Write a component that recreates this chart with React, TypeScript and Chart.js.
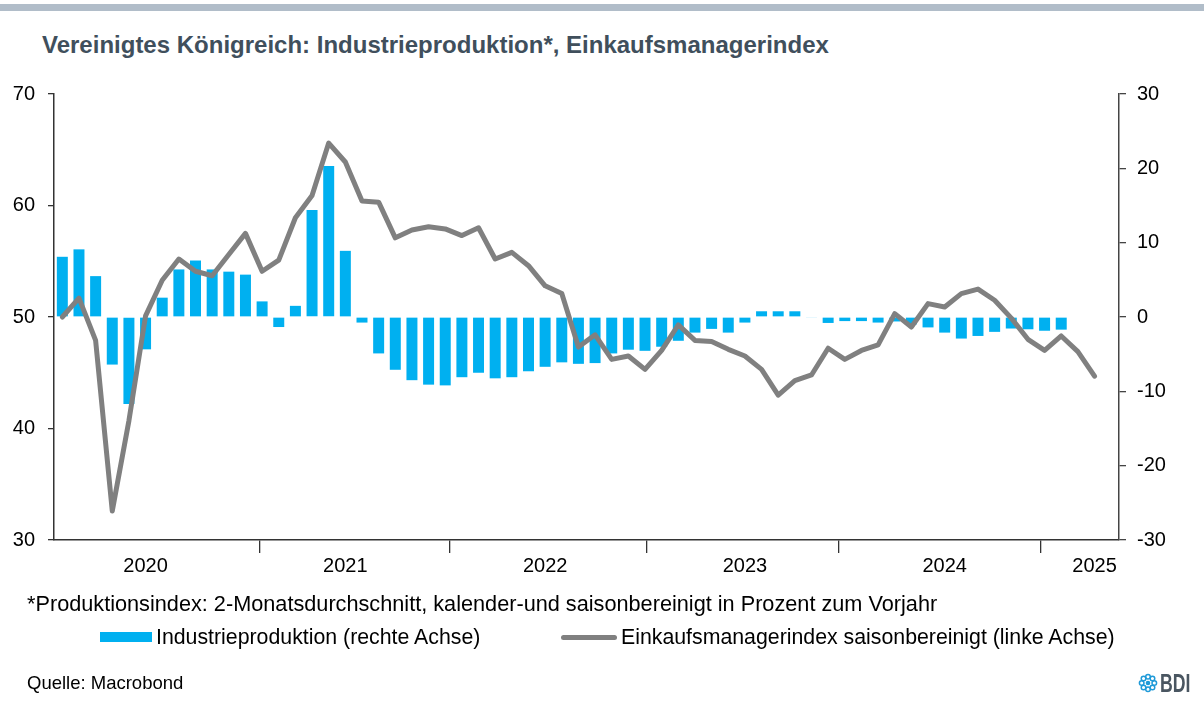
import React, { useEffect, useRef } from 'react';
import { Chart, registerables } from 'chart.js';

Chart.register(...registerables);

// Months Jan 2020 .. Mar 2025
const months = [
  'Jan 2020', 'Feb 2020', 'Mar 2020', 'Apr 2020', 'May 2020', 'Jun 2020', 'Jul 2020', 'Aug 2020', 'Sep 2020', 'Oct 2020', 'Nov 2020', 'Dec 2020',
  'Jan 2021', 'Feb 2021', 'Mar 2021', 'Apr 2021', 'May 2021', 'Jun 2021', 'Jul 2021', 'Aug 2021', 'Sep 2021', 'Oct 2021', 'Nov 2021', 'Dec 2021',
  'Jan 2022', 'Feb 2022', 'Mar 2022', 'Apr 2022', 'May 2022', 'Jun 2022', 'Jul 2022', 'Aug 2022', 'Sep 2022', 'Oct 2022', 'Nov 2022', 'Dec 2022',
  'Jan 2023', 'Feb 2023', 'Mar 2023', 'Apr 2023', 'May 2023', 'Jun 2023', 'Jul 2023', 'Aug 2023', 'Sep 2023', 'Oct 2023', 'Nov 2023', 'Dec 2023',
  'Jan 2024', 'Feb 2024', 'Mar 2024', 'Apr 2024', 'May 2024', 'Jun 2024', 'Jul 2024', 'Aug 2024', 'Sep 2024', 'Oct 2024', 'Nov 2024', 'Dec 2024',
  'Jan 2025', 'Feb 2025', 'Mar 2025',
];

// Einkaufsmanagerindex (left axis)
const pmi = [
  50.0, 51.7, 47.9, 32.6, 40.7, 50.1, 53.3, 55.2, 54.1, 53.7, 55.6, 57.5,
  54.1, 55.1, 58.9, 60.9, 65.6, 63.9, 60.4, 60.3, 57.1, 57.8, 58.1, 57.9,
  57.3, 58.0, 55.2, 55.8, 54.6, 52.8, 52.1, 47.3, 48.4, 46.2, 46.5, 45.3,
  47.0, 49.3, 47.9, 47.8, 47.1, 46.5, 45.3, 43.0, 44.3, 44.8, 47.2, 46.2,
  47.0, 47.5, 50.3, 49.1, 51.2, 50.9, 52.1, 52.5, 51.5, 49.9, 48.0, 47.0,
  48.3, 46.9, 44.7,
];

// Industrieproduktion, % yoy (right axis), Jan 2020 .. Jan 2025
const production = [
  8.1, 9.1, 5.5, -6.4, -11.7, -4.35, 2.6, 6.4, 7.6, 6.4, 6.1, 5.7,
  2.1, -1.35, 1.5, 14.4, 20.3, 8.9, -0.75, -4.9, -7.1, -8.5, -9.1, -9.2,
  -8.1, -7.5, -8.25, -8.1, -7.3, -6.7, -6.1, -6.3, -6.2, -4.9, -4.4, -4.55,
  -4.0, -3.2, -2.1, -1.6, -2.1, -0.75, 0.77, 0.77, 0.77, -0.1, -0.8, -0.55,
  -0.55, -0.75, -0.6, -1.0, -1.4, -2.1, -2.9, -2.55, -2.0, -1.55, -1.65, -1.85,
  -1.7,
];

const yearLabels = ['2020', '2021', '2022', '2023', '2024', '2025'];
const yearLabelMonths = ['Jun 2020', 'Jun 2021', 'Jun 2022', 'Jun 2023', 'Jun 2024', 'Mar 2025'];
// year separator tick marks, in month-index units
const yearSeparators = [11.84, 23.29, 35.07, 46.66, 58.74];

const leftTicks = [30, 40, 50, 60, 70];
const rightTicks = [-30, -20, -10, 0, 10, 20, 30];

const FONT = '"Liberation Sans", Arial, Helvetica, sans-serif';

function ChartCanvas() {
  const ref = useRef<HTMLCanvasElement | null>(null);
  useEffect(() => {
    const canvas = ref.current;
    if (!canvas) return;
    const tickDefs = [
      ...yearLabelMonths.map((m, i) => ({ value: months.indexOf(m), label: yearLabels[i], mark: false })),
      ...yearSeparators.map((v) => ({ value: v, label: '', mark: true })),
    ].sort((a, b) => a.value - b.value);

    const axisColor = '#333333';
    const chart = new Chart(canvas, {
      type: 'bar',
      data: {
        datasets: [
          {
            type: 'line',
            label: 'Einkaufsmanagerindex saisonbereinigt (linke Achse)',
            data: pmi.map((v, i) => ({ x: i, y: v })),
            yAxisID: 'yL',
            xAxisID: 'x',
            borderColor: '#808080',
            borderWidth: 5,
            pointRadius: 0,
            tension: 0,
            borderJoinStyle: 'round',
            borderCapStyle: 'round',
            order: 0,
          } as any,
          {
            type: 'bar',
            label: 'Industrieproduktion (rechte Achse)',
            data: production.map((v, i) => ({ x: i, y: v })),
            yAxisID: 'yR',
            xAxisID: 'x',
            backgroundColor: '#00b0f0',
            barPercentage: 0.66,
            categoryPercentage: 1,
            order: 1,
          } as any,
        ],
      },
      options: {
        responsive: false,
        animation: false,
        layout: { padding: { top: 94, left: 0, right: 0, bottom: 0 } },
        plugins: { legend: { display: false }, tooltip: { enabled: false }, title: { display: false } },
        scales: {
          x: {
            type: 'linear',
            position: 'bottom',
            offset: false,
            min: -0.5,
            max: 63.47,
            afterBuildTicks: (s: any) => {
              s.ticks = tickDefs.map((t) => ({ value: t.value }));
            },
            afterFit: (s: any) => {
              s.height = 162;
            },
            ticks: {
              autoSkip: false,
              maxRotation: 0,
              minRotation: 0,
              padding: 1,
              color: '#000',
              font: { family: FONT, size: 20 },
              callback: (_v: any, i: number) => tickDefs[i]?.label ?? '',
            },
            grid: {
              offset: false,
              drawOnChartArea: false,
              drawTicks: true,
              tickLength: 13,
              lineWidth: 1.3,
              color: (ctx: any) => (tickDefs[ctx.index]?.mark ? axisColor : 'rgba(0,0,0,0)'),
              tickColor: (ctx: any) => (tickDefs[ctx.index]?.mark ? axisColor : 'rgba(0,0,0,0)'),
            },
            border: { display: true, color: axisColor, width: 1.5 },
          } as any,
          yL: {
            type: 'linear',
            position: 'left',
            min: leftTicks[0],
            max: leftTicks[leftTicks.length - 1],
            afterBuildTicks: (s: any) => {
              s.ticks = leftTicks.map((v) => ({ value: v }));
            },
            afterFit: (s: any) => {
              s.width = 54;
            },
            ticks: { padding: 13, color: '#000', font: { family: FONT, size: 20 } },
            grid: { drawOnChartArea: false, drawTicks: true, tickLength: 6, color: axisColor, lineWidth: 1.3 },
            border: { display: true, color: axisColor, width: 1.5 },
          } as any,
          yR: {
            type: 'linear',
            position: 'right',
            min: rightTicks[0],
            max: rightTicks[rightTicks.length - 1],
            afterBuildTicks: (s: any) => {
              s.ticks = rightTicks.map((v) => ({ value: v }));
            },
            afterFit: (s: any) => {
              s.width = 85;
            },
            ticks: { padding: 11, color: '#000', font: { family: FONT, size: 20 } },
            grid: { drawOnChartArea: false, drawTicks: true, tickLength: 7, color: '#444', lineWidth: 1.3 },
            border: { display: true, color: '#444', width: 1.5 },
          } as any,
        },
      },
    });
    return () => chart.destroy();
  }, []);
  return <canvas ref={ref} width={1204} height={702} style={{ position: 'absolute', left: 0, top: 0, width: 1204, height: 702 }} />;
}

function BdiIcon() {
  const dots = [0, 45, 90, 135, 180, 225, 270, 315];
  return (
    <svg width={20} height={20} viewBox="-10 -10 20 20" style={{ position: 'absolute', left: 1138, top: 673 }}>
      {dots.map((a) => (
        <circle key={a} cx={6.3 * Math.cos((a * Math.PI) / 180)} cy={6.3 * Math.sin((a * Math.PI) / 180)} r={2.3} fill="none" stroke="#1f9ad8" strokeWidth={1.5} />
      ))}
      <circle cx={0} cy={0} r={2.3} fill="#1f9ad8" />
    </svg>
  );
}

export default function App() {
  const text = (left: number, centerY: number, content: string, extra: React.CSSProperties = {}) => (
    <div
      style={{
        position: 'absolute',
        left,
        top: centerY - 12,
        height: 24,
        lineHeight: '24px',
        whiteSpace: 'nowrap',
        fontSize: 20,
        color: '#000',
        ...extra,
      }}
    >
      {content}
    </div>
  );
  return (
    <div style={{ position: 'absolute', left: 0, top: 0, width: 1204, height: 702, background: '#fff', fontFamily: FONT, overflow: 'hidden' }}>
      <div style={{ position: 'absolute', left: 0, top: 4, width: 1204, height: 7, background: '#b1bdc9' }} />
      {text(42, 45, 'Vereinigtes Königreich: Industrieproduktion*, Einkaufsmanagerindex', {
        fontSize: 24,
        fontWeight: 'bold',
        color: '#404f5c',
      })}
      <ChartCanvas />
      {text(27, 604, '*Produktionsindex: 2-Monatsdurchschnitt, kalender-und saisonbereinigt in Prozent zum Vorjahr', { fontSize: 21.7 })}
      <div style={{ position: 'absolute', left: 100, top: 632, width: 52, height: 10, background: '#00b0f0' }} />
      {text(156, 637, 'Industrieproduktion (rechte Achse)', { fontSize: 21.3 })}
      <div style={{ position: 'absolute', left: 561, top: 634.5, width: 56, height: 5, borderRadius: 2.5, background: '#808080' }} />
      {text(621, 637, 'Einkaufsmanagerindex saisonbereinigt (linke Achse)', { fontSize: 21.3 })}
      {text(27, 683, 'Quelle: Macrobond', { fontSize: 18.5 })}
      <BdiIcon />
      {text(1160, 683, 'BDI', { fontSize: 26, fontWeight: 'bold', color: '#4a5661', transform: 'scaleX(0.68)', transformOrigin: 'left center' })}
    </div>
  );
}
